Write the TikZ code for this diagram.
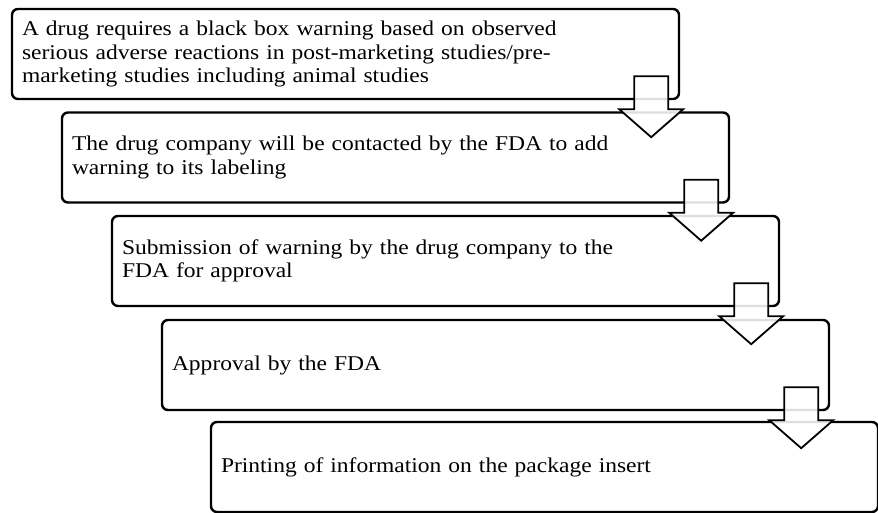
\documentclass[tikz,border=0pt]{standalone}
\usepackage{fontspec}
\setmainfont{Liberation Serif}[FakeStretch=1.12]
\usetikzlibrary{calc}
\begin{document}
\begin{tikzpicture}[x=1pt,y=-1pt,
  stepbox/.style={draw=black, line width=2.4pt, rounded corners=6pt, fill=white,
    minimum width=667pt, minimum height=90pt, inner xsep=10pt, inner ysep=0pt,
    text width=647pt, align=left, font=\fontsize{21}{23.3}\selectfont},
  blockarr/.pic={
    \draw[line width=1.8pt, fill=white, fill opacity=0.87, line join=miter]
      (-17,0) -- (17,0) -- (17,33) -- (32,33) -- (0,61) -- (-32,33) -- (-17,33) -- cycle;
  }]
\useasboundingbox (0,0) rectangle (878,513);
\node[stepbox] (b1) at (345.5,54) {A drug requires a black box warning based on observed\\serious adverse reactions in post-marketing studies/pre-\\marketing studies including animal studies};
\node[stepbox] (b2) at (395.5,157.5) {The drug company will be contacted by the FDA to add\\warning to its labeling};
\node[stepbox] (b3) at (445.5,261) {Submission of warning by the drug company to the\\FDA for approval};
\node[stepbox] (b4) at (495.5,365) {Approval by the FDA};
\node[stepbox] (b5) at (544.5,467) {Printing of information on the package insert};
\path (b1.south east) ++(-29,-24) pic {blockarr};
\path (b2.south east) ++(-29,-24) pic {blockarr};
\path (b3.south east) ++(-29,-24) pic {blockarr};
\path (b4.south east) ++(-29,-24) pic {blockarr};
\end{tikzpicture}
\end{document}
